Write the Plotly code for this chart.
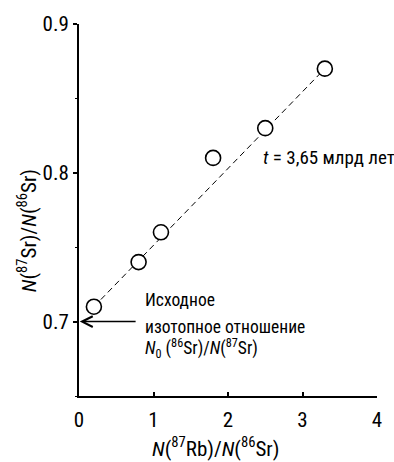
import plotly.graph_objects as go

# Data
rb_sr = [0.2, 0.8, 1.1, 1.8, 2.5, 3.3]
sr_sr = [0.71, 0.74, 0.76, 0.81, 0.83, 0.87]
fit_x = [0.2, 3.3]
fit_y = [0.71, 0.87]
x_ticks = [0, 1, 2, 3, 4]
y_ticks = [0.7, 0.8, 0.9]
y_minor = [0.65, 0.75, 0.85]

FONT = "Liberation Sans Narrow, Roboto Condensed, Arial Narrow, sans-serif"

fig = go.Figure()
fig.add_trace(go.Scatter(x=fit_x, y=fit_y, mode="lines",
                         line=dict(color="black", width=1, dash="6px,4px"),
                         showlegend=False, hoverinfo="skip"))
fig.add_trace(go.Scatter(x=rb_sr, y=sr_sr, mode="markers",
                         marker=dict(size=15, color="white", line=dict(color="black", width=1.6)),
                         showlegend=False))

fig.update_layout(
    width=394, height=462,
    margin=dict(l=79, r=13, t=21, b=66),
    plot_bgcolor="white", paper_bgcolor="white",
    font=dict(family=FONT, size=21, color="black"),
    xaxis=dict(range=[0, 4], tickvals=x_ticks, ticktext=[str(v) for v in x_ticks],
               showline=True, linecolor="black", linewidth=2, showgrid=False, zeroline=False,
               ticks="inside", ticklen=4, tickwidth=1.5, tickcolor="black",
               tickfont=dict(size=21), ticklabelstandoff=4, fixedrange=True),
    yaxis=dict(range=[0.65, 0.9], tickvals=y_ticks, ticktext=["0.7", "0.8", "0.9"],
               showline=True, linecolor="black", linewidth=2, showgrid=False, zeroline=False,
               ticks="outside", ticklen=4, tickwidth=1.5, tickcolor="black",
               tickfont=dict(size=21),
               minor=dict(tickvals=y_minor, ticks="outside", ticklen=2, tickwidth=1, tickcolor="black"),
               fixedrange=True),
)

annots = [
    dict(text="<i>N</i>(<sup>87</sup>Rb)/<i>N</i>(<sup>86</sup>Sr)", xref="paper", yref="paper",
         x=0.457, y=-0.138, xanchor="center", yanchor="middle", showarrow=False, font=dict(size=21)),
    dict(text="<i>N</i>(<sup>87</sup>Sr)/<i>N</i>(<sup>86</sup>Sr)", xref="paper", yref="paper",
         x=-0.172, y=0.445, xanchor="center", yanchor="middle", textangle=-90, showarrow=False,
         font=dict(size=21)),
    dict(text="<i>t</i> = 3,65 млрд лет", xref="x", yref="y", x=2.437, y=0.81,
         xanchor="left", yanchor="middle", showarrow=False, font=dict(size=19)),
    dict(text="Исходное", xref="x", yref="y", x=0.861, y=0.7147,
         xanchor="left", yanchor="middle", showarrow=False, font=dict(size=17.5)),
    dict(text="изотопное отношение", xref="x", yref="y", x=0.861, y=0.6965,
         xanchor="left", yanchor="middle", showarrow=False, font=dict(size=17.5)),
    dict(text="<i>N</i><sub>0</sub> (<sup>86</sup>Sr)/<i>N</i>(<sup>87</sup>Sr)", xref="x", yref="y",
         x=0.861, y=0.6822, xanchor="left", yanchor="middle", showarrow=False, font=dict(size=17.5)),
    dict(text="", x=0.01, y=0.7, xref="x", yref="y", ax=0.78, ay=0.7, axref="x", ayref="y",
         showarrow=True, arrowhead=5, arrowsize=1.4, arrowwidth=1.5, arrowcolor="black"),
]
fig.update_layout(annotations=annots)

fig.write_html("out.html")
